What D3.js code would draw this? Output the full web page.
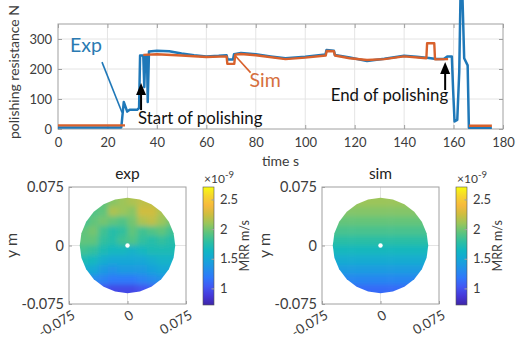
<!DOCTYPE html>
<html>
<head>
<meta charset="utf-8">
<script src="https://cdn.jsdelivr.net/npm/d3@7"></script>
<style>
  body { margin: 0; background: #fff; }
  svg { display: block; font-family: Lato, "Open Sans", sans-serif; }
</style>
</head>
<body>
<svg id="chart" width="518" height="340"></svg>
<script>
// polishing resistance trace, time in s, force in N (null = no data)
const expTime  = [0, 25.6, 26.6, 28, 29, 32, 32.8, 33.2, 34.5, 34.9, 35.3, 36.0, 36.3, 36.8, 40, 45, 50, 55, 60, 65, 68.2, 68.6, 70.8, 71.2, 74, 80, 86, 92, 100, 108.2, 108.6, 111.6, 112, 118, 125, 132, 140, 145, 150, 153, 156, 157.6, 159.3, 159.8, 160.4, 161.5, 162.3, 162.8, 163.6, 164.3, 165.7, 166.2, 175.5];
const expForce = [5, 5, 90, 58, 64, 64, 70, 245, 245, 140, 245, 245, 90, 258, 261, 259, 252, 246, 242, 244, 246, 232, 232, 249, 253, 249, 242, 236, 241, 248, 263, 261, 247, 238, 227, 234, 244, 241, 237, 233, 233, 242, 242, 135, 25, 30, 190, 440, 440, 236, 212, 4, 4];
const simTime  = [0, 27.1, 30, 34.5, 40, 50, 60, 68.2, 68.5, 71.3, 71.7, 74, 80, 92, 100, 108.3, 108.7, 111.6, 112, 118, 125, 132, 140, 149, 149.3, 152.2, 152.5, 157.8, 162, 166.2, 175.5];
const simForce = [12, 12, null, 247, 249, 245, 240, 242, 217, 217, 248, 250, 246, 233, 238, 245, 260, 259, 245, 236, 230, 233, 242, 236, 286, 286, 232, 233, null, 11, 11];
const timeTicks = [0, 20, 40, 60, 80, 100, 120, 140, 160, 180];
const forceTicks = [0, 100, 200, 300];

// MRR maps, x1e-9 m/s, 10x10 cells of 0.0125 m, rows top -> bottom
const expMap = [
  [1.85, 1.90, 1.95, 2.05, 2.10, 2.15, 2.20, 2.20, 2.15, 2.10],
  [1.80, 1.90, 1.95, 2.15, 2.10, 2.05, 2.25, 2.25, 2.15, 2.05],
  [1.85, 1.95, 2.00, 1.95, 1.90, 2.00, 2.15, 2.20, 2.10, 2.00],
  [1.95, 2.00, 1.85, 1.75, 1.80, 1.95, 1.85, 1.90, 1.95, 1.85],
  [1.95, 1.95, 1.80, 1.75, 1.85, 1.90, 1.80, 1.75, 1.80, 1.75],
  [1.85, 1.80, 1.70, 1.65, 1.65, 1.60, 1.65, 1.70, 1.70, 1.70],
  [1.70, 1.65, 1.55, 1.50, 1.50, 1.50, 1.50, 1.55, 1.60, 1.60],
  [1.55, 1.50, 1.40, 1.35, 1.40, 1.40, 1.40, 1.45, 1.50, 1.50],
  [1.30, 1.30, 1.25, 1.20, 1.20, 1.20, 1.25, 1.30, 1.35, 1.35],
  [1.05, 1.05, 1.00, 0.95, 0.95, 0.95, 1.00, 1.05, 1.10, 1.10]
];
const simRows = [2.10, 2.04, 1.96, 1.87, 1.77, 1.66, 1.54, 1.41, 1.27, 1.12];
const mapTicks = [-0.075, 0, 0.075];
const mapTickLabels = ['-0.075', '0', '0.075'];
const cbTicks = [1, 1.5, 2, 2.5];
const cbLimits = [0.72, 2.71];
const parula = ['#3e26a8', '#4538d9', '#4257f3', '#2f77fb', '#2290e9', '#15a6d7', '#11b6c2',
                '#2fbfa0', '#5fc47c', '#9bc55a', '#cfbd3f', '#f7ba3c', '#f6d52e', '#f9fb0e'];

const blue = '#1f78b8', orange = '#d8612c', axisGrey = '#a0a0a0', textGrey = '#3c3c3c';
const svg = d3.select('#chart');

// ---------- top panel ----------
const x = d3.scaleLinear().domain([0, 180]).range([58, 503]);
const y = d3.scaleLinear().domain([0, 350]).range([129, 24]);

const gTop = svg.append('g');
gTop.append('g').selectAll('line').data(timeTicks.slice(1, -1)).join('line')
  .attr('x1', d => x(d)).attr('x2', d => x(d))
  .attr('y1', y(0)).attr('y2', y(350))
  .attr('stroke', '#e4e4e4');
gTop.append('g').selectAll('line').data(forceTicks.slice(1)).join('line')
  .attr('x1', x(0)).attr('x2', x(180))
  .attr('y1', d => y(d)).attr('y2', d => y(d))
  .attr('stroke', '#e4e4e4');

function styleAxis(g) {
  g.select('.domain').remove();
  g.selectAll('line').attr('stroke', axisGrey);
  g.selectAll('text').attr('fill', textGrey).style('font-size', '13px').style('font-family', 'Lato');
}
gTop.append('g').attr('transform', `translate(0,${y(0)})`)
  .call(d3.axisBottom(x).tickValues(timeTicks).tickSizeInner(-4).tickSizeOuter(0).tickPadding(9))
  .call(styleAxis);
gTop.append('g').attr('transform', `translate(${x(0)},0)`)
  .call(d3.axisLeft(y).tickValues(forceTicks).tickSizeInner(-4).tickSizeOuter(0).tickPadding(6))
  .call(styleAxis);
gTop.append('g').attr('transform', `translate(${x(180)},0)`)
  .call(d3.axisRight(y).tickValues(forceTicks).tickSizeInner(-4).tickSizeOuter(0).tickFormat(''))
  .call(styleAxis);
gTop.append('g').attr('transform', `translate(0,${y(350)})`)
  .call(d3.axisTop(x).tickValues(timeTicks).tickSizeInner(-4).tickSizeOuter(0).tickFormat(''))
  .call(styleAxis);
gTop.append('rect')
  .attr('x', x(0)).attr('y', y(350))
  .attr('width', x(180) - x(0)).attr('height', y(0) - y(350))
  .attr('fill', 'none').attr('stroke', axisGrey);

gTop.append('text').attr('transform', `translate(19,72) rotate(-90)`)
  .attr('text-anchor', 'middle').attr('fill', textGrey).style('font-size', '14px')
  .text('polishing resistance N');
gTop.append('text').attr('x', x(90)).attr('y', 166)
  .attr('text-anchor', 'middle').attr('fill', textGrey).style('font-size', '14px')
  .text('time s');

const line = d3.line().defined(d => d[1] != null).x(d => x(d[0])).y(d => y(d[1]));
gTop.append('path').datum(expTime.map((t, i) => [t, expForce[i]]))
  .attr('d', line).attr('fill', 'none').attr('stroke', blue)
  .attr('stroke-width', 2.5).attr('stroke-linejoin', 'round');
gTop.append('path').datum(simTime.map((t, i) => [t, simForce[i]]))
  .attr('d', line).attr('fill', 'none').attr('stroke', orange)
  .attr('stroke-width', 2.4).attr('stroke-linejoin', 'round');

// labels and pointers
gTop.append('line').attr('x1', x(17.8)).attr('y1', y(223)).attr('x2', x(25.9)).attr('y2', y(55))
  .attr('stroke', blue).attr('stroke-width', 1.6);
gTop.append('text').attr('x', x(4.9)).attr('y', y(257)).attr('fill', '#2a7ab2')
  .style('font-size', '19.5px').text('Exp');
gTop.append('line').attr('x1', x(77.9)).attr('y1', y(188)).attr('x2', x(71.6)).attr('y2', y(245))
  .attr('stroke', orange).attr('stroke-width', 1.6);
gTop.append('text').attr('x', x(77.5)).attr('y', y(140)).attr('fill', '#d66f3e')
  .style('font-size', '19.5px').text('Sim');

function arrow(t, from, to) {
  const ax = x(t), tip = y(to);
  gTop.append('line').attr('x1', ax).attr('x2', ax).attr('y1', y(from)).attr('y2', tip + 10)
    .attr('stroke', '#000').attr('stroke-width', 2);
  gTop.append('path').attr('d', `M${ax},${tip}L${ax - 5},${tip + 12}L${ax + 5},${tip + 12}Z`)
    .attr('fill', '#000');
}
arrow(33.6, 63, 153);
arrow(156.6, 130, 223);
gTop.append('text').attr('x', x(32.4)).attr('y', y(17)).attr('fill', '#111')
  .style('font-size', '16.8px').text('Start of polishing');
gTop.append('text').attr('x', x(157.8)).attr('y', y(93)).attr('text-anchor', 'end').attr('fill', '#111')
  .style('font-size', '16.8px').text('End of polishing');

// ---------- bottom maps ----------
const color = d3.scaleLinear()
  .domain(parula.map((c, i) => cbLimits[0] + i * (cbLimits[1] - cbLimits[0]) / (parula.length - 1)))
  .range(parula).interpolate(d3.interpolateRgb);

const defs = svg.append('defs');
defs.append('filter').attr('id', 'soft').attr('x', '-5%').attr('y', '-5%').attr('width', '110%').attr('height', '110%')
  .append('feGaussianBlur').attr('stdDeviation', 2.6);
const grad = defs.append('linearGradient').attr('id', 'cbgrad').attr('x1', 0).attr('y1', 1).attr('x2', 0).attr('y2', 0);
grad.selectAll('stop').data(parula).join('stop')
  .attr('offset', (d, i) => i / (parula.length - 1)).attr('stop-color', d => d);

function drawMap(left, title, values, id) {
  const size = 117;
  const xs = d3.scaleLinear().domain([-0.075, 0.075]).range([left, left + size]);
  const ys = d3.scaleLinear().domain([-0.075, 0.075]).range([304, 304 - size]);
  const g = svg.append('g');

  g.append('line').attr('x1', xs(0)).attr('x2', xs(0)).attr('y1', ys(-0.075)).attr('y2', ys(0.075)).attr('stroke', '#e4e4e4');
  g.append('line').attr('y1', ys(0)).attr('y2', ys(0)).attr('x1', xs(-0.075)).attr('x2', xs(0.075)).attr('stroke', '#e4e4e4');

  const ring = d3.range(24).map(k => {
    const a = 2 * Math.PI * k / 24;
    return [xs(0.0612 * Math.cos(a)), ys(0.0612 * Math.sin(a))];
  });
  defs.append('clipPath').attr('id', id).append('path').attr('d', 'M' + ring.join('L') + 'Z');

  const cells = [];
  values.forEach((row, r) => row.forEach((v, c) => cells.push({r, c, v})));
  const edge = i => -0.0625 + i * 0.0125;
  const lo = i => i === 0 ? -0.075 : edge(i);
  const hi = i => i === 9 ? 0.075 : edge(i + 1);
  g.append('g').attr('clip-path', `url(#${id})`).append('g').attr('filter', 'url(#soft)')
    .selectAll('rect').data(cells).join('rect')
    .attr('x', d => xs(lo(d.c))).attr('width', d => xs(hi(d.c)) - xs(lo(d.c)) + 0.5)
    .attr('y', d => ys(hi(9 - d.r))).attr('height', d => ys(lo(9 - d.r)) - ys(hi(9 - d.r)) + 0.5)
    .attr('fill', d => color(d.v));
  g.append('circle').attr('cx', xs(0)).attr('cy', ys(0)).attr('r', 2.2).attr('fill', '#fff');

  g.append('g').attr('transform', `translate(0,${ys(-0.075)})`)
    .call(d3.axisBottom(xs).tickValues(mapTicks).tickSizeInner(-3).tickSizeOuter(0).tickFormat(''))
    .call(styleAxis);
  g.append('g').attr('transform', `translate(${xs(-0.075)},0)`)
    .call(d3.axisLeft(ys).tickValues(mapTicks).tickSizeInner(-3).tickSizeOuter(0).tickFormat(''))
    .call(styleAxis);
  g.append('rect').attr('x', xs(-0.075)).attr('y', ys(0.075)).attr('width', size).attr('height', size)
    .attr('fill', 'none').attr('stroke', axisGrey);

  g.selectAll('.ylab').data(mapTicks).join('text').attr('class', 'ylab')
    .attr('x', xs(-0.075) - 5).attr('y', d => ys(d)).attr('dy', '0.35em')
    .attr('text-anchor', 'end').attr('fill', textGrey).style('font-size', '14.5px')
    .text((d, i) => mapTickLabels[i]);
  g.selectAll('.xlab').data(mapTicks).join('text').attr('class', 'xlab')
    .attr('transform', d => `translate(${xs(d) + 5},${ys(-0.075) + 10}) rotate(-30)`)
    .attr('dy', '0.32em').attr('text-anchor', 'end').attr('fill', textGrey).style('font-size', '13.5px')
    .text((d, i) => mapTickLabels[i]);
  g.append('text').attr('transform', `translate(${xs(-0.075) - 52},${ys(0)}) rotate(-90)`)
    .attr('text-anchor', 'middle').attr('fill', textGrey).style('font-size', '16px').text('y m');
  g.append('text').attr('x', xs(0)).attr('y', ys(0.075) - 8).attr('text-anchor', 'middle')
    .attr('fill', '#222').style('font-size', '15.5px').text(title);

  // colorbar
  const cb = d3.scaleLinear().domain(cbLimits).range([305, 187]);
  const cbx = left + 134, cbw = 11;
  g.append('rect').attr('x', cbx).attr('y', cb(cbLimits[1])).attr('width', cbw)
    .attr('height', cb(cbLimits[0]) - cb(cbLimits[1]))
    .attr('fill', 'url(#cbgrad)').attr('stroke', '#555').attr('stroke-width', 0.6);
  g.append('g').attr('transform', `translate(${cbx + cbw},0)`)
    .call(d3.axisRight(cb).tickValues(cbTicks).tickFormat(d3.format('~g'))
      .tickSizeInner(-2.5).tickSizeOuter(0).tickPadding(6))
    .call(styleAxis);
  const exp10 = g.append('text').attr('x', cbx + 1).attr('y', 183).attr('fill', textGrey).style('font-size', '12px');
  exp10.append('tspan').text('\u00d710');
  exp10.append('tspan').attr('dy', -5).style('font-size', '9.5px').text('-9');
  g.append('text').attr('transform', `translate(${cbx + cbw + 35},${cb(1.72)}) rotate(-90)`)
    .attr('text-anchor', 'middle').attr('fill', textGrey).style('font-size', '12.5px').text('MRR m/s');
}

drawMap(69, 'exp', expMap, 'clipExp');
drawMap(322, 'sim', simRows.map(v => d3.range(10).map(() => v)), 'clipSim');
</script>
</body>
</html>
